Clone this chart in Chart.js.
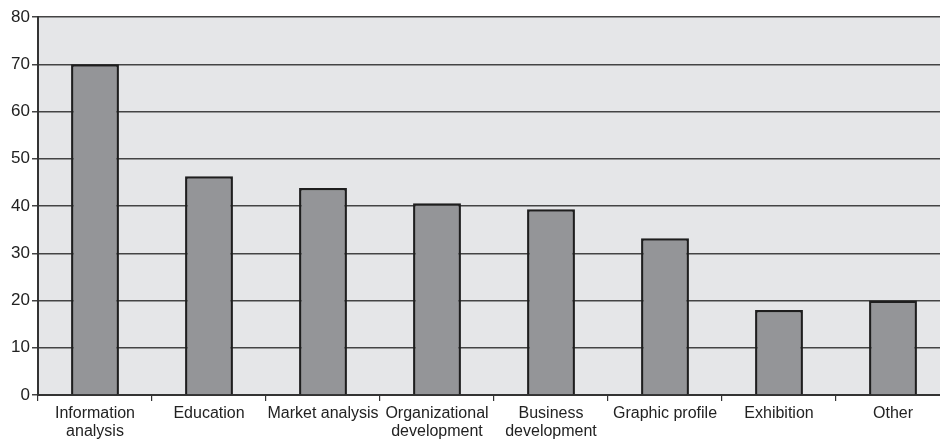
<!DOCTYPE html>
<html>
<head>
<meta charset="utf-8">
<script src="https://cdn.jsdelivr.net/npm/chart.js@4/dist/chart.umd.min.js"></script>
<style>
  html, body { margin: 0; padding: 0; background: #fff; overflow: hidden; }
  #wrap { width: 950px; height: 444px; }
</style>
</head>
<body>
<div id="wrap"><canvas id="usesChart"></canvas></div>
<script>
// Kategorier och andel svar (%)
const categories = [
  ['Information', 'analysis'],
  'Education',
  'Market analysis',
  ['Organizational', 'development'],
  ['Business', 'development'],
  'Graphic profile',
  'Exhibition',
  'Other'
];
const values = [70, 46.3, 43.8, 40.6, 39.3, 33.2, 18, 20];
const yMax = 80;
const yStep = 10;

// grå bakgrund bakom själva diagramytan
const plotBg = {
  id: 'plotBg',
  beforeDraw(chart) {
    const { ctx, chartArea: a } = chart;
    ctx.save();
    ctx.fillStyle = '#e5e6e8';
    ctx.fillRect(a.left, a.top, a.right - a.left, a.bottom - a.top);
    ctx.restore();
  }
};

const ctx = document.getElementById('usesChart').getContext('2d');
window.usesChart = new Chart(ctx, {
  type: 'bar',
  data: {
    labels: categories,
    datasets: [{
      data: values,
      backgroundColor: '#949598',
      borderColor: '#1e1e1e',
      borderWidth: 2.5,
      barPercentage: 0.42,
      categoryPercentage: 1
    }]
  },
  options: {
    responsive: true,
    maintainAspectRatio: false,
    animation: false,
    layout: { padding: { top: 17, left: 0, right: 0, bottom: 0 } },
    plugins: {
      legend: { display: false },
      tooltip: { enabled: false }
    },
    scales: {
      x: {
        afterFit(scale) { scale.height = 49; },
        grid: {
          offset: true,
          drawOnChartArea: false,
          color: '#333',
          lineWidth: 1.2,
          tickLength: 6
        },
        border: { color: '#333', width: 2 },
        ticks: {
          color: '#222',
          padding: 4,
          maxRotation: 0,
          autoSkip: false,
          font: { family: 'Liberation Sans, Arial, sans-serif', size: 16, lineHeight: 1.1 }
        }
      },
      y: {
        min: 0,
        max: yMax,
        afterFit(scale) { scale.width = 38; },
        grid: {
          color: '#444',
          lineWidth: 1.5,
          tickLength: 6
        },
        border: { color: '#333', width: 2 },
        ticks: {
          stepSize: yStep,
          color: '#222',
          padding: 2,
          font: { family: 'Liberation Sans, Arial, sans-serif', size: 17 }
        }
      }
    }
  },
  plugins: [plotBg]
});
</script>
</body>
</html>
